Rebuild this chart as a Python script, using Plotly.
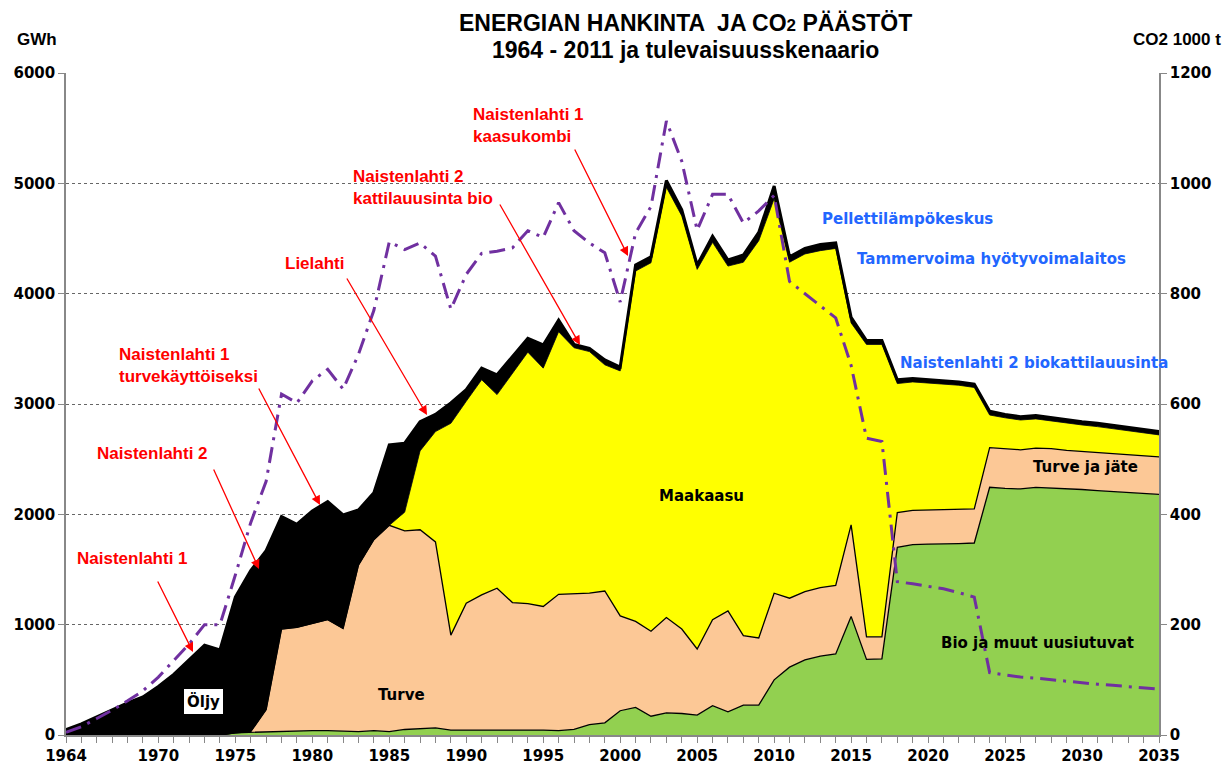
import plotly.graph_objects as go

years = list(range(1964, 2036))

# GWh by source (stacked areas)
bio = [0, 0, 0, 0, 0, 0, 0, 0, 0, 0, 0,
       20, 25, 30, 35, 35, 40, 40, 35, 30, 40, 30, 50, 60, 65, 45,
       45, 45, 50, 45, 45, 45, 40, 50, 95, 110,
       220, 250, 170, 200, 195, 180, 265, 210, 270, 270,
       500, 615, 680, 715, 735, 1075, 685, 690, 1700, 1725,
       1730, 1730, 1735, 1740, 2245, 2235, 2230, 2245, 2240, 2230,
       2225, 2215, 2205, 2200, 2190, 2180]
turve = [0, 0, 0, 0, 0, 0, 0, 0, 0, 0, 0,
         0, 5, 200, 925, 940, 970, 1005, 930, 1510, 1730, 1870, 1800, 1800, 1685, 860,
         1150, 1225, 1280, 1155, 1145, 1120, 1235, 1230, 1190, 1195,
         860, 780, 770, 865, 765, 600, 780, 915, 630, 610,
         785, 625, 620, 620, 620, 830, 205, 200, 315, 310,
         310, 315, 315, 310, 360, 360, 355, 355, 355, 350,
         345, 345, 345, 340, 340, 340]
maakaasu = [0, 0, 0, 0, 0, 0, 0, 0, 0, 0, 0,
            0, 0, 0, 0, 0, 0, 0, 0, 0, 0, 0, 170, 715, 1000, 1920,
            1830, 1950, 1755, 2080, 2280, 2160, 2380, 2230, 2190, 2050,
            2220, 3175, 3340, 3900, 3745, 3440, 3420, 3125, 3385, 3600,
            3575, 3045, 3060, 3055, 3055, 1830, 2650, 2650, 1170, 1165,
            1150, 1135, 1120, 1100, 295, 280, 270, 265, 250, 245,
            240, 235, 225, 215, 205, 200]
oljy = [50, 100, 165, 230, 290, 345, 440, 550, 680, 815, 770,
        1230, 1460, 1440, 1020, 935, 1020, 1070, 1030, 500, 425, 730, 625, 265, 155, 185,
        105, 105, 180, 150, 125, 210, 105, 30, 30, 45,
        35, 55, 55, 60, 55, 40, 55, 55, 65, 75,
        115, 50, 50, 55, 50, 50, 35, 35, 35, 30,
        30, 30, 30, 30, 35, 30, 30, 30, 30, 30,
        30, 30, 30, 30, 35, 30]

# CO2 emissions, 1000 t (right axis)
co2 = [5, 15, 30, 45, 62, 80, 105, 135, 165, 200, 200,
       290, 385, 460, 618, 602, 642, 663, 627, 690, 770, 894, 880, 892, 868, 772,
       835, 873, 877, 883, 914, 902, 965, 914, 892, 874,
       785, 910, 958, 1113, 1040, 915, 980, 980, 928, 950,
       978, 822, 800, 778, 756, 670, 538, 532, 278, 274,
       270, 265, 258, 250, 113, 109, 105, 103, 100, 97,
       94, 92, 90, 88, 86, 83]

x_ticks = [1964, 1970, 1975, 1980, 1985, 1990, 1995, 2000, 2005, 2010, 2015, 2020, 2025, 2030, 2035]

# --- layout helpers (pixel -> data / paper) ---
L, R, T, B = 66, 1159, 73, 735
def dx(px):
    return 1964 + (px - L) * 71.0 / (R - L)
def dy(py):
    return (B - py) * 6000.0 / (B - T)
def px_(px):
    return (px - L) / (R - L)
def py_(py):
    return (B - py) / (B - T)

C_BIO = "#92D050"
C_TURVE = "#FCC896"
C_GAS = "#FFFF00"
C_OIL = "#000000"
C_CO2 = "#7030A0"
C_BLUE = "#2266FF"

fig = go.Figure()
fig.add_trace(go.Scatter(x=years, y=bio, name="Bio ja muut uusiutuvat", stackgroup="e",
                         fillcolor=C_BIO, line=dict(color="black", width=1.3), mode="lines"))
fig.add_trace(go.Scatter(x=years, y=turve, name="Turve", stackgroup="e",
                         fillcolor=C_TURVE, line=dict(color="black", width=1.3), mode="lines"))
fig.add_trace(go.Scatter(x=years, y=maakaasu, name="Maakaasu", stackgroup="e",
                         fillcolor=C_GAS, line=dict(color="black", width=0.8), mode="lines"))
fig.add_trace(go.Scatter(x=years, y=oljy, name="Öljy", stackgroup="e",
                         fillcolor=C_OIL, line=dict(color="black", width=3), mode="lines"))
fig.add_trace(go.Scatter(x=years, y=co2, name="CO2", yaxis="y2", mode="lines",
                         line=dict(color=C_CO2, width=3, dash="16px,7px,3px,7px")))

tickfont = dict(family="DejaVu Sans", size=15, color="black", weight="bold")

fig.update_layout(
    width=1232, height=767,
    margin=dict(l=L, r=1232 - R, t=T, b=767 - B, autoexpand=False),
    paper_bgcolor="white", plot_bgcolor="white",
    showlegend=False,
    xaxis=dict(range=[1964, 2035], tickvals=x_ticks, ticks="outside", ticklen=6,
               tickcolor="#888", showline=True, linecolor="#888", linewidth=1.5,
               showgrid=False, zeroline=False, tickfont=tickfont, automargin=False,
               minor=dict(ticks="outside", dtick=1, tick0=1964, ticklen=6, tickcolor="#888")),
    yaxis=dict(range=[0, 6000], dtick=1000, ticks="outside", ticklen=6, tickcolor="#888",
               showline=True, linecolor="#888", linewidth=1.5, automargin=False,
               showgrid=True, gridcolor="#666", griddash="dot", gridwidth=1,
               zeroline=False, tickfont=tickfont),
    yaxis2=dict(range=[0, 1200], dtick=200, overlaying="y", side="right",
                ticks="outside", ticklen=6, tickcolor="#888", automargin=False,
                showline=True, linecolor="#888", linewidth=1.5,
                showgrid=False, zeroline=False, tickfont=tickfont),
)

ann = []
title_font = dict(family="Liberation Sans", size=23, color="black")
ann.append(dict(xref="paper", yref="paper", x=px_(685), y=py_(23), text="<b>ENERGIAN HANKINTA  JA CO<span style='font-size:17px'>2</span> PÄÄSTÖT</b>",
                showarrow=False, font=title_font, xanchor="center", yanchor="middle"))
ann.append(dict(xref="paper", yref="paper", x=px_(685), y=py_(50), text="<b>1964 - 2011 ja tulevaisuusskenaario</b>",
                showarrow=False, font=title_font, xanchor="center", yanchor="middle"))
unit_font = dict(family="Liberation Sans", size=17, color="black")
ann.append(dict(xref="paper", yref="paper", x=px_(15), y=py_(40), text="<b>GWh</b>",
                showarrow=False, font=unit_font, xanchor="left", yanchor="middle"))
ann.append(dict(xref="paper", yref="paper", x=px_(1223), y=py_(40), text="<b>CO2 1000 t</b>",
                showarrow=False, font=unit_font, xanchor="right", yanchor="middle"))

red_font = dict(family="Liberation Sans", size=17, color="#FF0000")
reds = [
    ("Naistenlahti 1", 75, 558, (157, 580), (193, 652)),
    ("Naistenlahti 2", 95, 453, (213, 468), (259, 569)),
    ("Naistenlahti 1<br>turvekäyttöiseksi", 117, 365, (258, 387), (320, 505)),
    ("Lielahti", 283, 263, (346, 277), (427, 415)),
    ("Naistenlahti 2<br>kattilauusinta bio", 351, 187, (499, 203), (580, 345)),
    ("Naistenlahti 1<br>kaasukombi", 471, 125, (574, 148), (628, 256)),
]
for txt, lx, cy, tail, tip in reds:
    ann.append(dict(x=dx(lx), y=dy(cy), xref="x", yref="y", text="<b>" + txt + "</b>",
                    showarrow=False, font=red_font, xanchor="left", yanchor="middle", align="left"))
    ann.append(dict(x=dx(tip[0]), y=dy(tip[1]), ax=dx(tail[0]), ay=dy(tail[1]),
                    xref="x", yref="y", axref="x", ayref="y", text="",
                    showarrow=True, arrowhead=2, arrowsize=1.4, arrowwidth=1.3,
                    arrowcolor="#FF0000", standoff=0, startstandoff=0))

blue_font = dict(family="DejaVu Sans", size=15, color=C_BLUE, weight="bold")
for txt, lx, cy in [("Pellettilämpökeskus", 820, 219),
                    ("Tammervoima hyötyvoimalaitos", 855, 259),
                    ("Naistenlahti 2 biokattilauusinta", 898, 363)]:
    ann.append(dict(x=dx(lx), y=dy(cy), xref="x", yref="y", text=txt, showarrow=False,
                    font=blue_font, xanchor="left", yanchor="middle"))

blk_font = dict(family="DejaVu Sans", size=15, color="black", weight="bold")
for txt, cx, cy in [("Turve", 401, 695), ("Maakaasu", 701, 496),
                    ("Turve ja jäte", 1085, 467), ("Bio ja muut uusiutuvat", 1037, 643)]:
    ann.append(dict(x=dx(cx), y=dy(cy), xref="x", yref="y", text=txt, showarrow=False,
                    font=blk_font, xanchor="center", yanchor="middle"))
ann.append(dict(x=dx(203), y=dy(701), xref="x", yref="y", text="Öljy", showarrow=False,
                font=blk_font, xanchor="center", yanchor="middle",
                bgcolor="white", bordercolor="black", borderwidth=1, borderpad=3))

fig.update_layout(annotations=ann)
fig.write_html("out.html", config={"displayModeBar": False},
               post_script="document.body.style.margin='0px';document.body.style.overflow='hidden';")
